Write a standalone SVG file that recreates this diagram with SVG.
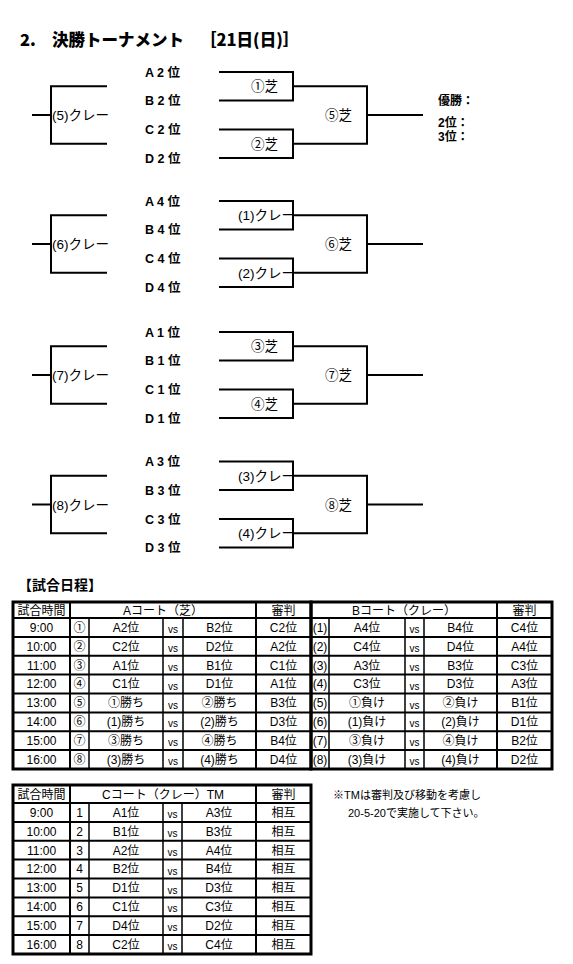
<svg xmlns="http://www.w3.org/2000/svg" width="573" height="964" viewBox="0 0 573 964">
<style>
.ln{stroke:#000;stroke-width:2;fill:none}
.seed{font-family:"Liberation Sans","Noto Sans CJK JP",sans-serif;font-weight:bold;font-size:12.5px}
.m{font-family:"Liberation Sans","Noto Sans CJK JP",sans-serif;font-size:13.5px}
.ttl{font-family:"Noto Sans CJK JP",sans-serif;font-weight:900;font-size:16.5px}
.hd{font-family:"Noto Sans CJK JP",sans-serif;font-weight:bold;font-size:14px}
.win{font-family:"Liberation Sans","Noto Sans CJK JP",sans-serif;font-weight:bold;font-size:12px}
.c{font-family:"Liberation Sans","Noto Sans CJK JP",sans-serif;font-size:12px;text-anchor:middle}
.vs{font-family:"Liberation Sans",sans-serif;font-size:10px;text-anchor:middle}
.note{font-family:"Liberation Sans","Noto Sans CJK JP",sans-serif;font-size:11px}
.ob{stroke:#000;stroke-width:3;fill:none}
.il{stroke:#000;stroke-width:1.5;fill:none}
.hl{stroke:#000;stroke-width:2;fill:none}
</style>
<rect width="573" height="964" fill="#fff"/>
<g id="title">
<text class="ttl" x="20" y="45.5">2.</text>
<text class="ttl" x="52" y="45.5">決勝トーナメント</text>
<text class="ttl" x="200" y="45.5">［21日(日)］</text>
</g>
<g id="connectors">
<!-- bracket 1 y0=72 -->
<path class="ln" d="M219 72H293V100.5H219M219 129.5H293V158H219M293 86.25H367V143.75H293M367 115H423M107 86.25H51V143.75H107M32 115H51"/>
<!-- bracket 2 y0=201 -->
<path class="ln" d="M219 201H293V229.5H219M219 258.5H293V287H219M293 215.25H367V272.75H293M367 244H423M107 215.25H51V272.75H107M32 244H51"/>
<!-- bracket 3 y0=332 -->
<path class="ln" d="M219 332H293V360.5H219M219 389.5H293V418H219M293 346.25H367V403.75H293M367 375H423M107 346.25H51V403.75H107M32 375H51"/>
<!-- bracket 4 y0=461.5 -->
<path class="ln" d="M219 461.5H293V490H219M219 519H293V547.5H219M293 475.75H367V533.25H293M367 504.5H423M107 475.75H51V533.25H107M32 504.5H51"/>
</g>
<g id="seeds">
<text class="seed" x="145" y="76.5">A 2 位</text>
<text class="seed" x="145" y="105">B 2 位</text>
<text class="seed" x="145" y="134">C 2 位</text>
<text class="seed" x="145" y="162.5">D 2 位</text>
<text class="seed" x="145" y="205.5">A 4 位</text>
<text class="seed" x="145" y="234">B 4 位</text>
<text class="seed" x="145" y="263">C 4 位</text>
<text class="seed" x="145" y="291.5">D 4 位</text>
<text class="seed" x="145" y="336.5">A 1 位</text>
<text class="seed" x="145" y="365">B 1 位</text>
<text class="seed" x="145" y="394">C 1 位</text>
<text class="seed" x="145" y="422.5">D 1 位</text>
<text class="seed" x="145" y="466">A 3 位</text>
<text class="seed" x="145" y="494.5">B 3 位</text>
<text class="seed" x="145" y="523.5">C 3 位</text>
<text class="seed" x="145" y="552">D 3 位</text>
</g>
<g id="match-labels">
<text class="m" x="251" y="91">①芝</text>
<text class="m" x="251" y="148.5">②芝</text>
<text class="m" x="325" y="120">⑤芝</text>
<text class="m" x="52" y="120">(5)クレー</text>
<text class="m" x="238" y="220">(1)クレー</text>
<text class="m" x="238" y="277.5">(2)クレー</text>
<text class="m" x="325" y="249">⑥芝</text>
<text class="m" x="52" y="249">(6)クレー</text>
<text class="m" x="251" y="351">③芝</text>
<text class="m" x="251" y="408.5">④芝</text>
<text class="m" x="325" y="380">⑦芝</text>
<text class="m" x="52" y="380">(7)クレー</text>
<text class="m" x="238" y="480.5">(3)クレー</text>
<text class="m" x="238" y="538">(4)クレー</text>
<text class="m" x="325" y="509.5">⑧芝</text>
<text class="m" x="52" y="509.5">(8)クレー</text>
</g>
<g id="results">
<text class="win" x="438" y="104.5">優勝：</text>
<text class="win" x="438" y="126.5">2位：</text>
<text class="win" x="438" y="140.5">3位：</text>
</g>
<g id="schedule-heading">
<text class="hd" x="18" y="590">【試合日程】</text>
</g>
<g id="table-a">
<path class="hl" d="M13 618H311M13 636.9H311M13 655.75H311M13 674.6H311M13 693.5H311M13 712.4H311M13 731.25H311M13 750.1H311"/>
<path class="hl" d="M70 602V769M256 602V769"/>
<path class="il" d="M89 618V769M163 618V769M183 618V769"/>
<rect class="ob" x="13" y="602" width="298" height="167"/>
<text class="c" x="41.5" y="614.5">試合時間</text>
<text class="c" x="163" y="614.5">Aコート（芝）</text>
<text class="c" x="283.5" y="614.5">審判</text>
<g>
<text class="c" x="41.5" y="631.7">9:00</text><text class="c" x="79.5" y="631.7">①</text><text class="c" x="126" y="631.7">A2位</text><text class="vs" x="173" y="633">vs</text><text class="c" x="219.5" y="631.7">B2位</text><text class="c" x="283.5" y="631.7">C2位</text>
<text class="c" x="41.5" y="650.6">10:00</text><text class="c" x="79.5" y="650.6">②</text><text class="c" x="126" y="650.6">C2位</text><text class="vs" x="173" y="651.9">vs</text><text class="c" x="219.5" y="650.6">D2位</text><text class="c" x="283.5" y="650.6">A2位</text>
<text class="c" x="41.5" y="669.5">11:00</text><text class="c" x="79.5" y="669.5">③</text><text class="c" x="126" y="669.5">A1位</text><text class="vs" x="173" y="670.8">vs</text><text class="c" x="219.5" y="669.5">B1位</text><text class="c" x="283.5" y="669.5">C1位</text>
<text class="c" x="41.5" y="688.4">12:00</text><text class="c" x="79.5" y="688.4">④</text><text class="c" x="126" y="688.4">C1位</text><text class="vs" x="173" y="689.7">vs</text><text class="c" x="219.5" y="688.4">D1位</text><text class="c" x="283.5" y="688.4">A1位</text>
<text class="c" x="41.5" y="707.3">13:00</text><text class="c" x="79.5" y="707.3">⑤</text><text class="c" x="126" y="707.3">①勝ち</text><text class="vs" x="173" y="708.6">vs</text><text class="c" x="219.5" y="707.3">②勝ち</text><text class="c" x="283.5" y="707.3">B3位</text>
<text class="c" x="41.5" y="726.1">14:00</text><text class="c" x="79.5" y="726.1">⑥</text><text class="c" x="126" y="726.1">(1)勝ち</text><text class="vs" x="173" y="727.4">vs</text><text class="c" x="219.5" y="726.1">(2)勝ち</text><text class="c" x="283.5" y="726.1">D3位</text>
<text class="c" x="41.5" y="745">15:00</text><text class="c" x="79.5" y="745">⑦</text><text class="c" x="126" y="745">③勝ち</text><text class="vs" x="173" y="746.3">vs</text><text class="c" x="219.5" y="745">④勝ち</text><text class="c" x="283.5" y="745">B4位</text>
<text class="c" x="41.5" y="763.9">16:00</text><text class="c" x="79.5" y="763.9">⑧</text><text class="c" x="126" y="763.9">(3)勝ち</text><text class="vs" x="173" y="765.2">vs</text><text class="c" x="219.5" y="763.9">(4)勝ち</text><text class="c" x="283.5" y="763.9">D4位</text>
</g>
</g>
<g id="table-b">
<path class="hl" d="M311 618H552M311 636.9H552M311 655.75H552M311 674.6H552M311 693.5H552M311 712.4H552M311 731.25H552M311 750.1H552"/>
<path class="hl" d="M497 602V769"/>
<path class="il" d="M329 618V769M405 618V769M424 618V769"/>
<rect class="ob" x="311" y="602" width="241" height="167"/>
<text class="c" x="404" y="614.5">Bコート（クレー）</text>
<text class="c" x="524.5" y="614.5">審判</text>
<g>
<text class="c" x="320" y="631.7">(1)</text><text class="c" x="367" y="631.7">A4位</text><text class="vs" x="414.5" y="633">vs</text><text class="c" x="460.5" y="631.7">B4位</text><text class="c" x="524.5" y="631.7">C4位</text>
<text class="c" x="320" y="650.6">(2)</text><text class="c" x="367" y="650.6">C4位</text><text class="vs" x="414.5" y="651.9">vs</text><text class="c" x="460.5" y="650.6">D4位</text><text class="c" x="524.5" y="650.6">A4位</text>
<text class="c" x="320" y="669.5">(3)</text><text class="c" x="367" y="669.5">A3位</text><text class="vs" x="414.5" y="670.8">vs</text><text class="c" x="460.5" y="669.5">B3位</text><text class="c" x="524.5" y="669.5">C3位</text>
<text class="c" x="320" y="688.4">(4)</text><text class="c" x="367" y="688.4">C3位</text><text class="vs" x="414.5" y="689.7">vs</text><text class="c" x="460.5" y="688.4">D3位</text><text class="c" x="524.5" y="688.4">A3位</text>
<text class="c" x="320" y="707.3">(5)</text><text class="c" x="367" y="707.3">①負け</text><text class="vs" x="414.5" y="708.6">vs</text><text class="c" x="460.5" y="707.3">②負け</text><text class="c" x="524.5" y="707.3">B1位</text>
<text class="c" x="320" y="726.1">(6)</text><text class="c" x="367" y="726.1">(1)負け</text><text class="vs" x="414.5" y="727.4">vs</text><text class="c" x="460.5" y="726.1">(2)負け</text><text class="c" x="524.5" y="726.1">D1位</text>
<text class="c" x="320" y="745">(7)</text><text class="c" x="367" y="745">③負け</text><text class="vs" x="414.5" y="746.3">vs</text><text class="c" x="460.5" y="745">④負け</text><text class="c" x="524.5" y="745">B2位</text>
<text class="c" x="320" y="763.9">(8)</text><text class="c" x="367" y="763.9">(3)負け</text><text class="vs" x="414.5" y="765.2">vs</text><text class="c" x="460.5" y="763.9">(4)負け</text><text class="c" x="524.5" y="763.9">D2位</text>
</g>
</g>
<g id="table-c">
<path class="hl" d="M13 803H311M13 821.9H311M13 840.75H311M13 859.6H311M13 878.5H311M13 897.4H311M13 916.25H311M13 935.1H311"/>
<path class="hl" d="M70 785V954M256 785V954"/>
<path class="il" d="M89 803V954M163 803V954M182 803V954"/>
<rect class="ob" x="13" y="785" width="298" height="169"/>
<text class="c" x="41.5" y="798.5">試合時間</text>
<text class="c" x="163" y="798.5">Cコート（クレー）TM</text>
<text class="c" x="283.5" y="798.5">審判</text>
<g>
<text class="c" x="41.5" y="816.7">9:00</text><text class="c" x="79.5" y="816.7">1</text><text class="c" x="126" y="816.7">A1位</text><text class="vs" x="172.5" y="818">vs</text><text class="c" x="219" y="816.7">A3位</text><text class="c" x="283.5" y="816.7">相互</text>
<text class="c" x="41.5" y="835.6">10:00</text><text class="c" x="79.5" y="835.6">2</text><text class="c" x="126" y="835.6">B1位</text><text class="vs" x="172.5" y="836.9">vs</text><text class="c" x="219" y="835.6">B3位</text><text class="c" x="283.5" y="835.6">相互</text>
<text class="c" x="41.5" y="854.5">11:00</text><text class="c" x="79.5" y="854.5">3</text><text class="c" x="126" y="854.5">A2位</text><text class="vs" x="172.5" y="855.8">vs</text><text class="c" x="219" y="854.5">A4位</text><text class="c" x="283.5" y="854.5">相互</text>
<text class="c" x="41.5" y="873.4">12:00</text><text class="c" x="79.5" y="873.4">4</text><text class="c" x="126" y="873.4">B2位</text><text class="vs" x="172.5" y="874.7">vs</text><text class="c" x="219" y="873.4">B4位</text><text class="c" x="283.5" y="873.4">相互</text>
<text class="c" x="41.5" y="892.3">13:00</text><text class="c" x="79.5" y="892.3">5</text><text class="c" x="126" y="892.3">D1位</text><text class="vs" x="172.5" y="893.6">vs</text><text class="c" x="219" y="892.3">D3位</text><text class="c" x="283.5" y="892.3">相互</text>
<text class="c" x="41.5" y="911.1">14:00</text><text class="c" x="79.5" y="911.1">6</text><text class="c" x="126" y="911.1">C1位</text><text class="vs" x="172.5" y="912.4">vs</text><text class="c" x="219" y="911.1">C3位</text><text class="c" x="283.5" y="911.1">相互</text>
<text class="c" x="41.5" y="930">15:00</text><text class="c" x="79.5" y="930">7</text><text class="c" x="126" y="930">D4位</text><text class="vs" x="172.5" y="931.3">vs</text><text class="c" x="219" y="930">D2位</text><text class="c" x="283.5" y="930">相互</text>
<text class="c" x="41.5" y="948.9">16:00</text><text class="c" x="79.5" y="948.9">8</text><text class="c" x="126" y="948.9">C2位</text><text class="vs" x="172.5" y="950.2">vs</text><text class="c" x="219" y="948.9">C4位</text><text class="c" x="283.5" y="948.9">相互</text>
</g>
</g>
<g id="note">
<text class="note" x="333" y="799">※TMは審判及び移動を考慮し</text>
<text class="note" x="348" y="817">20-5-20で実施して下さい。</text>
</g>
</svg>
